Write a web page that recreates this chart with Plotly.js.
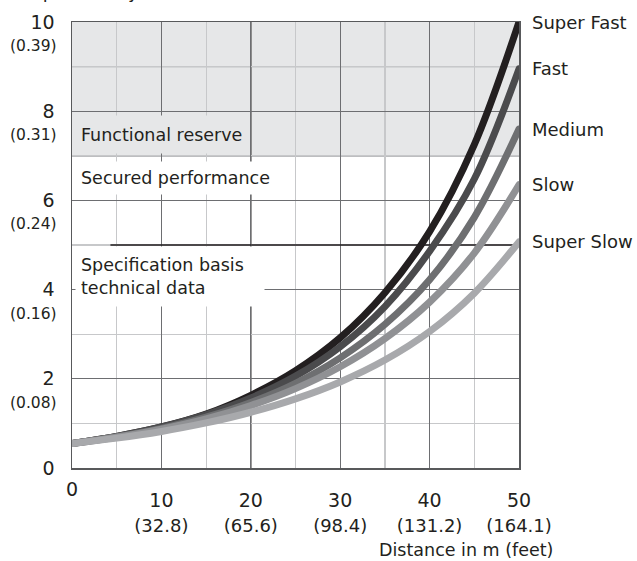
<!DOCTYPE html>
<html>
<head>
<meta charset="utf-8">
<script src="https://cdn.plot.ly/plotly-3.0.1.min.js"></script>
<style>
  html, body { margin: 0; padding: 0; background: #fff; }
  #chart { width: 637px; height: 561px; }
  .js-line { stroke-linecap: round !important; stroke-linejoin: round !important; }
</style>
</head>
<body>
<div id="chart"></div>
<script>
// ---- data ----
const distance = [0, 5, 10, 15, 20, 25, 30, 35, 40, 45, 50];
const superFast = [0.55, 0.71, 0.92, 1.21, 1.63, 2.18, 2.92, 3.93, 5.30, 7.25, 10.0];
const fast      = [0.55, 0.71, 0.92, 1.20, 1.57, 2.06, 2.72, 3.62, 4.86, 6.48, 8.95];
const medium    = [0.55, 0.70, 0.89, 1.14, 1.47, 1.90, 2.47, 3.22, 4.22, 5.62, 7.60];
const slow      = [0.55, 0.69, 0.87, 1.10, 1.40, 1.78, 2.27, 2.90, 3.72, 4.82, 6.35];
const superSlow = [0.55, 0.67, 0.82, 1.01, 1.25, 1.55, 1.93, 2.42, 3.06, 3.92, 5.07];
const seriesNames = ["Super Fast", "Fast", "Medium", "Slow", "Super Slow"];
const seriesColors = ["#231f20", "#4b4b4d", "#6e6f71", "#909194", "#a8a9ac"];

const xTickVals = [0, 10, 20, 30, 40, 50];
const xTickMeters = ["0", "10", "20", "30", "40", "50"];
const xTickFeet = ["", "(32.8)", "(65.6)", "(98.4)", "(131.2)", "(164.1)"];
const yTickVals = [0, 2, 4, 6, 8, 10];
const yTickMm = ["0", "2", "4", "6", "8", "10"];
const yTickInch = ["", "(0.08)", "(0.16)", "(0.24)", "(0.31)", "(0.39)"];

const zoneFunctionalReserve = [7, 10];
const specLineStart = 4.3;

const FONT = "DejaVu Sans";
const TXT = "#231f20";

const allSeries = [superFast, fast, medium, slow, superSlow];
const traces = allSeries.map((vals, i) => ({
  type: "scatter",
  mode: "lines",
  x: distance,
  y: vals,
  name: seriesNames[i],
  line: { color: seriesColors[i], width: 7, shape: "spline", smoothing: 1 },
  hoverinfo: "skip",
  showlegend: false
}));

const xTickText = xTickVals.map((v, i) =>
  i === 0 ? "" : xTickMeters[i] + "<br><span style='font-size:18px'>" + xTickFeet[i] + "</span>");

const annotations = [];
// "0" on x axis sits higher than the others
annotations.push({
  xref: "x", yref: "paper", x: xTickVals[0], y: 0, yshift: -21, yanchor: "middle",
  xanchor: "center", text: xTickMeters[0], showarrow: false,
  font: { family: FONT, size: 19, color: TXT }
});
// inch labels under y ticks
yTickVals.forEach((v, i) => {
  if (!yTickInch[i]) return;
  annotations.push({
    xref: "paper", yref: "y", x: 0, y: v, xanchor: "right", yanchor: "middle",
    xshift: -13, yshift: -24, text: yTickInch[i], showarrow: false,
    font: { family: FONT, size: 15.5, color: TXT }
  });
});
// series labels at curve ends
allSeries.forEach((vals, i) => {
  annotations.push({
    xref: "paper", yref: "y", x: 1, y: vals[vals.length - 1], xanchor: "left",
    yanchor: "middle", xshift: 11, text: seriesNames[i], showarrow: false,
    font: { family: FONT, size: 18, color: TXT }
  });
});
// zone text boxes
annotations.push({
  xref: "paper", yref: "y", x: 0, xshift: 3, y: 7.48, xanchor: "left", yanchor: "middle",
  text: "Functional reserve", showarrow: false, align: "left", valign: "middle",
  width: 162, height: 27, borderpad: 5, bgcolor: "#e6e7e8",
  font: { family: FONT, size: 17.5, color: TXT }
});
annotations.push({
  xref: "paper", yref: "y", x: 0, xshift: 3, y: 6.50, xanchor: "left", yanchor: "middle",
  text: "Secured performance", showarrow: false, align: "left", valign: "middle",
  width: 191, height: 22, borderpad: 5, bgcolor: "#ffffff",
  font: { family: FONT, size: 17.5, color: TXT }
});
annotations.push({
  xref: "paper", yref: "y", x: 0, xshift: 3, y: 4.29, xanchor: "left", yanchor: "middle",
  text: "Specification basis<br>technical data", showarrow: false, align: "left", valign: "middle",
  width: 178, height: 49, borderpad: 5, bgcolor: "#ffffff",
  font: { family: FONT, size: 17.5, color: TXT }
});
// x axis title (right aligned)
annotations.push({
  xref: "paper", yref: "paper", x: 1, y: 0, xanchor: "right", yanchor: "middle",
  xshift: 36, yshift: -82, text: "Distance in m (feet)", showarrow: false,
  font: { family: FONT, size: 17.5, color: TXT }
});
// y axis title, mostly cut off at top of image
annotations.push({
  xref: "paper", yref: "paper", x: 0, y: 1, xanchor: "left", yanchor: "bottom",
  xshift: -54, yshift: 18, text: "Repeatability in mm (inch)", showarrow: false,
  font: { family: FONT, size: 18, color: TXT }
});

const shapes = [
  { type: "rect", xref: "paper", yref: "y", x0: 0, x1: 1,
    y0: zoneFunctionalReserve[0], y1: zoneFunctionalReserve[1],
    fillcolor: "#e6e7e8", line: { width: 0 }, layer: "below" },
  { type: "line", xref: "x", yref: "paper", x0: 20, x1: 20, y0: 0, y1: 1,
    line: { color: "#231f20", width: 1.3 }, layer: "between" },
  { type: "line", xref: "paper", yref: "y", x0: 0, x1: 1, y0: 9, y1: 9,
    line: { color: "#a0a2a5", width: 1.3 }, layer: "between" },
  { type: "line", xref: "paper", yref: "y", x0: 0, x1: 1, y0: 7, y1: 7,
    line: { color: "#7d7e81", width: 1.3 }, layer: "between" },
  { type: "line", xref: "x", yref: "y", x0: specLineStart, x1: 50, y0: 5, y1: 5,
    line: { color: "#231f20", width: 1.6 }, layer: "between" }
];

const layout = {
  width: 637, height: 561,
  margin: { l: 72, r: 118, t: 22, b: 93, pad: 0 },
  paper_bgcolor: "#ffffff", plot_bgcolor: "rgba(0,0,0,0)",
  font: { family: FONT, color: TXT },
  showlegend: false,
  xaxis: {
    range: [0, 50], fixedrange: true, zeroline: false,
    showline: true, mirror: true, linecolor: "#58595b", linewidth: 1.5,
    showgrid: true, gridcolor: "#6d6e71", gridwidth: 1.2,
    tickmode: "array", tickvals: xTickVals, ticktext: xTickText,
    ticks: "", ticklabelstandoff: 15,
    tickfont: { family: FONT, size: 19, color: TXT },
    minor: { tickmode: "linear", tick0: 0, dtick: 5, showgrid: true,
             gridcolor: "#c7c8ca", gridwidth: 1.2, ticks: "" }
  },
  yaxis: {
    range: [0, 10], fixedrange: true, zeroline: false,
    showline: true, mirror: true, linecolor: "#58595b", linewidth: 1.5,
    showgrid: true, gridcolor: "#6d6e71", gridwidth: 1.2,
    tickmode: "array", tickvals: yTickVals, ticktext: yTickMm,
    ticks: "", ticklabelstandoff: 12,
    tickfont: { family: FONT, size: 19, color: TXT },
    minor: { tickmode: "linear", tick0: 0, dtick: 1, showgrid: true,
             gridcolor: "#c7c8ca", gridwidth: 1.2, ticks: "" }
  },
  shapes: shapes,
  annotations: annotations
};

Plotly.newPlot("chart", traces, layout, { staticPlot: true, displayModeBar: false });
</script>
</body>
</html>
